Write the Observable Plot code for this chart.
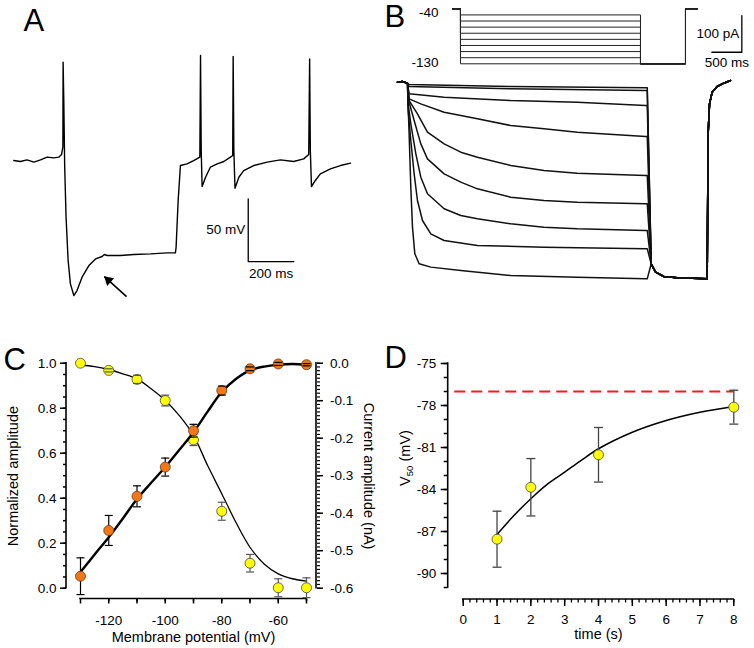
<!DOCTYPE html>
<html><head><meta charset="utf-8">
<script src="https://cdn.jsdelivr.net/npm/d3@7"></script>
<script src="https://cdn.jsdelivr.net/npm/@observablehq/plot@0.6"></script>
<style>
body{margin:0;background:#fff;}
#fig{position:relative;width:754px;height:648px;overflow:hidden;background:#fff;}
#fig svg{position:absolute;left:0;top:0;background:transparent;}
</style></head><body><div id="fig"></div>
<script>
// ---------- Panel A: current-clamp trace (time ms, voltage mV relative to rest) ----------
const traceA = [[0,0],[29,-0.8],[58,0.5],[88,-1.3],[117,0.5],[146,2.7],[175,2.1],[197,2.7],[209,4.8],[215,10.6],[216,78.4],[219,47.8],[223,-5.3],[229,-45.2],[238,-79.7],[248,-98.3],[263,-107.6],[277,-103.6],[299,-93],[329,-83.7],[358,-78.4],[387,-76.5],[397,-74.9],[409,-75.7],[467,-75.7],[526,-74.9],[599,-74.4],[672,-73.6],[708,-73.6],[711,-69.1],[720,-31.9],[730,-4.0],[759,-2.7],[788,0],[815,2.7],[818,83.7],[821,8.0],[825,-20.7],[840,-13.3],[861,-5.3],[891,-2.7],[920,-0.8],[949,2.7],[959,4.0],[961,82.9],[964,8.0],[969,-22.1],[986,-13.3],[1007,-8.0],[1051,-4.0],[1110,-1.3],[1168,0.5],[1226,-0.8],[1270,1.3],[1292,4.8],[1296,81.0],[1299,8.0],[1304,-20.7],[1321,-15.9],[1343,-10.6],[1387,-6.6],[1431,-4.0],[1475,-2.1]];
const scaleBarA = {t: 1027, v: -80.5, dt: 200, dv: 50, tLabel: "200 ms", vLabel: "50 mV"};
const arrowA = {t1: 494, v1: -108.4, t2: 397, v2: -92.5};

// ---------- Panel B: voltage protocol (mV) and currents (time ms, current pA) ----------
const holdingPotential = -40;
const testPotential = -130;
const protocolLevels = [-50, -60, -70, -80, -90, -100, -110, -120, -130];
const protocolEdges = [-133, 0, 3000, 3750, 3950];
const protocolLabels = ["-40", "-130"];
const preStep = [[0,1],[80,3],[167,-2]];
const tailCurrent = [[4233,-494.5],[4306,-517.3],[4444,-529.1],[4667,-532.7],[5167,-535.5],[5183,-140],[5206,-58.2],[5250,-26.4],[5333,-10.9],[5444,-1.8],[5556,5.5]];
const iStep50 = [[194,-5.5],[1889,-10.9],[4139,-14.5],[4167,-14.5]];
const iStep60 = [[194,-10.9],[1889,-17.3],[4139,-21.8],[4167,-21.8]];
const iStep70 = [[194,-30.9],[778,-40],[1889,-49.1],[3000,-53.6],[4139,-62.7],[4167,-62.7]];
const iStep80 = [[194,-44.5],[389,-58.2],[778,-80.9],[1333,-99.1],[1889,-117.3],[2444,-126.4],[3000,-135.4],[4139,-147.3],[4167,-147.3]];
const iStep90 = [[194,-49.1],[333,-85.4],[500,-135.4],[778,-167.3],[1056,-190],[1333,-203.6],[1889,-226.4],[2444,-240],[3000,-247.3],[4139,-253.6],[4167,-253.6]];
const iStep100 = [[194,-53.6],[278,-103.6],[389,-167.3],[500,-208.2],[778,-249.1],[1056,-271.8],[1333,-290],[1889,-312.7],[2444,-321.8],[3000,-326.4],[4139,-330.9],[4167,-330.9]];
const iStep110 = [[178,-58.2],[222,-112.7],[306,-194.5],[389,-258.2],[500,-303.6],[778,-344.5],[1056,-362.7],[1333,-371.8],[1889,-385.4],[2444,-394.5],[3000,-399.1],[4139,-403.6],[4167,-403.6]];
const iStep120 = [[178,-76.4],[222,-158.2],[278,-249.1],[333,-321.8],[417,-376.4],[556,-412.7],[778,-430.9],[1333,-444.5],[2444,-449.1],[4139,-453.6],[4167,-453.6]];
const iStep130 = [[167,-12.7],[194,-140],[222,-285.5],[250,-394.5],[289,-467.3],[361,-494.5],[556,-503.6],[1056,-512.7],[1889,-526.4],[3000,-530.9],[4139,-535.5],[4167,-535.5]];
const scaleBarB = {t: 5745, i: 82.6, dt: 500, di: 100, tLabel: "500 ms", iLabel: "100 pA"};

// ---------- Panel C: activation / amplitude vs membrane potential ----------
const potentialsC = [-130, -120, -110, -100, -90, -80, -70, -60, -50];
const normAmplitude = [1.00, 0.968, 0.928, 0.834, 0.659, 0.342, 0.111, 0.002, 0.002];
const normAmplitudeErr = [0, 0.007, 0.018, 0.024, 0.025, 0.04, 0.039, 0.04, 0.044];
const currentAmplitude = [-0.568, -0.446, -0.355, -0.277, -0.18, -0.073, -0.015, -0.002, -0.004];
const currentAmplitudeErr = [0.049, 0.04, 0.028, 0.024, 0.017, 0.012, 0.005, 0.004, 0.003];
const fitPotentialsC = [-130, -125, -120, -115, -110, -105, -100, -95, -90, -85, -80, -75, -70, -65, -60, -55, -50];
const normFit = [0.992, 0.985, 0.972, 0.953, 0.93, 0.886, 0.834, 0.767, 0.679, 0.545, 0.42, 0.293, 0.182, 0.108, 0.064, 0.042, 0.031];
const currentFit = [-0.557, -0.51, -0.464, -0.414, -0.362, -0.319, -0.277, -0.231, -0.184, -0.129, -0.077, -0.042, -0.019, -0.009, -0.004, -0.002, -0.004];
const cTicksLeft = [0, 0.2, 0.4, 0.6, 0.8, 1.0];
const cTicksRight = [0, -0.1, -0.2, -0.3, -0.4, -0.5, -0.6];
const cTicksX = [-130, -120, -110, -100, -90, -80, -70, -60, -50];
const cTickLabelsX = [-120, -100, -80, -60];

// ---------- Panel D: V50 vs step duration ----------
const stepTimes = [1, 2, 4, 8];
const v50 = [-87.55, -83.84, -81.52, -78.12];
const v50Err = [2.0, 2.05, 1.95, 1.21];
const fitTimesD = [1, 1.5, 2, 2.5, 3, 3.5, 4, 5, 6, 7, 8];
const fitV50 = [-87.21, -85.86, -84.66, -83.6, -82.76, -81.9, -81.09, -79.91, -79.07, -78.48, -78.07];
const referenceV50 = -77;
const dTicksY = [-75, -78, -81, -84, -87, -90];
const dTicksX = [0, 1, 2, 3, 4, 5, 6, 7, 8];

// ---------- helpers ----------
const FONT = '"Liberation Sans", Arial, Helvetica, sans-serif';
const W = 754, H = 648;
const base = {width: W, height: H, style: {background: "transparent", fontFamily: FONT, fontSize: "13.5px", overflow: "visible"}};
const svgNS = "http://www.w3.org/2000/svg";
function axisLine(side, a, b) {
  return (index, scales, values, dims) => {
    const l = document.createElementNS(svgNS, "line");
    let x1, x2, y1, y2;
    if (side === "bottom") { y1 = y2 = dims.height - dims.marginBottom; x1 = scales.x(a); x2 = scales.x(b); }
    else { x1 = x2 = side === "left" ? dims.marginLeft : dims.width - dims.marginRight; y1 = scales.y(a); y2 = scales.y(b); }
    l.setAttribute("x1", x1); l.setAttribute("x2", x2); l.setAttribute("y1", y1); l.setAttribute("y2", y2);
    l.setAttribute("stroke", "#000"); l.setAttribute("stroke-width", 1.6); l.setAttribute("stroke-linecap", "square");
    return l;
  };
}
const capSymbol = (w) => ({draw(ctx) { ctx.moveTo(-w, 0); ctx.lineTo(w, 0); }});
const range = (a, b, s) => d3.range(Math.round(a / s), Math.round(b / s) + 1).map(k => +(k * s).toFixed(6));
const fig = document.getElementById("fig");

// ---------- Panel A ----------
const sb = scaleBarA;
const plotA = Plot.plot({
  ...base, margin: 0,
  x: {domain: [0, 1475], range: [13.3, 350], axis: null},
  y: {domain: [-120, 90], range: [310.6, 47.1], axis: null},
  marks: [
    Plot.line(traceA, {x: d => d[0], y: d => d[1], stroke: "#000", strokeWidth: 1.4, strokeLinejoin: "round"}),
    Plot.line([[sb.t, sb.v + sb.dv], [sb.t, sb.v], [sb.t + sb.dt, sb.v]], {x: d => d[0], y: d => d[1], stroke: "#000", strokeWidth: 1.3}),
    Plot.text([sb.vLabel], {x: sb.t, y: sb.v + sb.dv / 2, textAnchor: "end", dx: -3, fontSize: 13.5}),
    Plot.text([sb.tLabel], {x: sb.t + sb.dt / 2, y: sb.v, dy: 12, fontSize: 13.5}),
    Plot.link([arrowA], {x1: "t1", y1: "v1", x2: "t2", y2: "v2", stroke: "#000", strokeWidth: 1.6}),
    Plot.dot([arrowA], {x: "t2", y: "v2", dx: 4, dy: 3.6, symbol: "triangle", r: 3.8, fill: "#000", rotate: -48}),
    Plot.text(["A"], {frameAnchor: "top-left", dx: 23, dy: 8, lineAnchor: "top", textAnchor: "start", fontSize: 31}),
    Plot.text(["B"], {frameAnchor: "top-left", dx: 384, dy: 4, lineAnchor: "top", textAnchor: "start", fontSize: 31}),
    Plot.text(["C"], {frameAnchor: "top-left", dx: 3, dy: 347, lineAnchor: "top", textAnchor: "start", fontSize: 31}),
    Plot.text(["D"], {frameAnchor: "top-left", dx: 384, dy: 345, lineAnchor: "top", textAnchor: "start", fontSize: 31})
  ]
});
fig.appendChild(plotA);

// ---------- Panel B: protocol ----------
const [tPre, tOn, tOff, tTestEnd, tEnd] = protocolEdges;
const protocolData = protocolLevels.flatMap(lv => [
  [tPre, holdingPotential], [tOn, holdingPotential], [tOn, lv], [tOff, lv], [tOff, testPotential],
  [tTestEnd, testPotential], [tTestEnd, holdingPotential], [tEnd, holdingPotential]
].map(([t, v]) => ({t, v, lv})));
const plotBp = Plot.plot({
  ...base, margin: 0,
  x: {domain: [tPre, tEnd], range: [452, 697], axis: null},
  y: {domain: [testPotential, holdingPotential], range: [63.3, 8.3], axis: null},
  marks: [
    Plot.line(protocolData, {x: "t", y: "v", z: "lv", stroke: "#222", strokeWidth: 1}),
    Plot.text([protocolLabels[0]], {x: tPre, y: holdingPotential, textAnchor: "end", dx: -14, dy: 3.5, fontSize: 13.5}),
    Plot.text([protocolLabels[1]], {x: tPre, y: testPotential, textAnchor: "end", dx: -14, dy: -1.5, fontSize: 13.5})
  ]
});
fig.appendChild(plotBp);

// ---------- Panel B: currents ----------
const stepsB = [[-50, iStep50], [-60, iStep60], [-70, iStep70], [-80, iStep80], [-90, iStep90], [-100, iStep100], [-110, iStep110], [-120, iStep120], [-130, iStep130]];
const currentData = stepsB.flatMap(([lv, pts]) => [...preStep, ...pts, ...tailCurrent].map(([t, i]) => ({t, i, lv})));
const sbB = scaleBarB;
const plotBc = Plot.plot({
  ...base, margin: 0,
  x: {domain: [0, 5556], range: [397, 730], axis: null},
  y: {domain: [-560, 20], range: [287.3, 74.7], axis: null},
  marks: [
    Plot.line(currentData, {x: "t", y: "i", z: "lv", stroke: "#111", strokeWidth: 1.5, strokeLinejoin: "round"}),
    Plot.line([[sbB.t - sbB.dt, sbB.i], [sbB.t, sbB.i], [sbB.t, sbB.i + sbB.di]], {x: d => d[0], y: d => d[1], stroke: "#000", strokeWidth: 1.3}),
    Plot.text([sbB.iLabel], {x: sbB.t, y: sbB.i + sbB.di / 2, textAnchor: "end", dx: -2.5, fontSize: 13.5}),
    Plot.text([sbB.tLabel], {x: sbB.t - sbB.dt / 2, y: sbB.i, dy: 10.5, fontSize: 13.5})
  ]
});
fig.appendChild(plotBc);

// ---------- Panel C ----------
const frameC = {marginLeft: 66, marginRight: 438, marginTop: 362.7, marginBottom: 49.5};
const cData = potentialsC.map((v, k) => ({v, n: normAmplitude[k], ne: normAmplitudeErr[k], c: currentAmplitude[k], ce: currentAmplitudeErr[k]}));
const cFit = fitPotentialsC.map((v, k) => ({v, n: normFit[k], c: currentFit[k]}));
const plotC1 = Plot.plot({
  ...base, ...frameC,
  x: {domain: [-130, -50], range: [80, 306], axis: null},
  y: {domain: [0, 1], range: [587.7, 362.7], axis: null},
  marks: [
    axisLine("left", 0, 1),
    axisLine("bottom", -130, -50),
    Plot.axisY({anchor: "left", ticks: cTicksLeft, tickSize: 6, tickPadding: 4, tickFormat: d => d.toFixed(1), strokeWidth: 1.5, fontSize: 13.5, label: null}),
    Plot.axisY({anchor: "left", ticks: range(0, 1, 0.05), tickSize: 3, tickFormat: () => "", strokeWidth: 1.5, label: null}),
    Plot.axisX({anchor: "bottom", ticks: cTicksX, tickSize: 5, tickPadding: 11, tickFormat: d => cTickLabelsX.includes(d) ? String(d) : "", strokeWidth: 1.5, fontSize: 13.5, label: null}),
    Plot.axisX({anchor: "bottom", ticks: range(-125, -55, 10), tickSize: 3, tickFormat: () => "", strokeWidth: 1.5, label: null}),
    Plot.line(cFit, {x: "v", y: "n", stroke: "#000", strokeWidth: 1.3, curve: "catmull-rom"}),
    Plot.ruleX(cData.filter(d => d.ne > 0), {x: "v", y1: d => d.n - d.ne, y2: d => d.n + d.ne, stroke: "#555", strokeWidth: 1.2}),
    Plot.dot(cData, {x: "v", y: "n", r: 5, fill: "#ffff00", stroke: "#444", strokeWidth: 0.8}),
    Plot.dot(cData.filter(d => d.ne > 0), {x: "v", y: d => d.n - d.ne, symbol: capSymbol(4), stroke: "#555", strokeWidth: 1.2}),
    Plot.dot(cData.filter(d => d.ne > 0), {x: "v", y: d => d.n + d.ne, symbol: capSymbol(4), stroke: "#555", strokeWidth: 1.2}),
    Plot.text(["Normalized amplitude"], {frameAnchor: "left", textAnchor: "middle", lineAnchor: "middle", dx: -53, dy: -5, rotate: -90, fontSize: 14.5}),
    Plot.text(["Membrane potential (mV)"], {x: -90, frameAnchor: "bottom", textAnchor: "middle", lineAnchor: "middle", dy: 38.5, fontSize: 14.5})
  ]
});
fig.appendChild(plotC1);

const plotC2 = Plot.plot({
  ...base, ...frameC,
  x: {domain: [-130, -50], range: [80, 306], axis: null},
  y: {domain: [-0.6, 0], range: [587.7, 362.7], axis: null},
  marks: [
    axisLine("right", -0.6, 0),
    Plot.axisY({anchor: "right", ticks: cTicksRight, tickSize: 6, tickPadding: 7.5, tickFormat: d => d.toFixed(1), strokeWidth: 1.5, fontSize: 13.5, label: null}),
    Plot.axisY({anchor: "right", ticks: range(-0.6, 0, 0.01), tickSize: 3, tickFormat: () => "", strokeWidth: 1.2, label: null}),
    Plot.line(cFit, {x: "v", y: "c", stroke: "#000", strokeWidth: 2.4, curve: "catmull-rom"}),
    Plot.ruleX(cData, {x: "v", y1: d => d.c - d.ce, y2: d => d.c + d.ce, stroke: "#000", strokeWidth: 1.2}),
    Plot.dot(cData, {x: "v", y: "c", r: 5, fill: "#f07818", stroke: "#6a3a10", strokeWidth: 0.8}),
    Plot.dot(cData, {x: "v", y: d => d.c - d.ce, symbol: capSymbol(4), stroke: "#000", strokeWidth: 1.2}),
    Plot.dot(cData, {x: "v", y: d => d.c + d.ce, symbol: capSymbol(4), stroke: "#000", strokeWidth: 1.2}),
    Plot.text(["Current amplitude (nA)"], {frameAnchor: "right", textAnchor: "middle", lineAnchor: "middle", dx: 52, dy: -5, rotate: 90, fontSize: 14.5})
  ]
});
fig.appendChild(plotC2);

// ---------- Panel D ----------
const dData = stepTimes.map((t, k) => ({t, v: v50[k], e: v50Err[k]}));
const dFit = fitTimesD.map((t, k) => ({t, v: fitV50[k]}));
// y-axis title pieces placed in the panel's own units (left of the axis)
const yTitleD = [{text: "V", x: -1.70, y: -83.75, size: 14.5}, {text: "50", x: -1.58, y: -83.05, size: 9.5}, {text: "(mV)", x: -1.70, y: -82.0, size: 14.5}];
const plotD = Plot.plot({
  ...base,
  marginLeft: 447.7, marginRight: 14, marginTop: 363, marginBottom: 49,
  x: {domain: [0, 8], range: [462.7, 733.3], axis: null},
  y: {domain: [-91, -75], range: [587, 363], axis: null},
  marks: [
    axisLine("left", -91, -75),
    axisLine("bottom", 0, 8),
    Plot.axisY({anchor: "left", ticks: dTicksY, tickSize: 7, tickPadding: 5, tickFormat: d => String(d), strokeWidth: 1.5, fontSize: 13.5, label: null}),
    Plot.axisY({anchor: "left", ticks: range(-91, -75, 1), tickSize: 4, tickFormat: () => "", strokeWidth: 1.5, label: null}),
    Plot.axisX({anchor: "bottom", ticks: dTicksX, tickSize: 7, tickPadding: 8, tickFormat: d => String(d), strokeWidth: 1.5, fontSize: 13.5, label: null}),
    Plot.axisX({anchor: "bottom", ticks: range(0, 8, 0.2), tickSize: 3.5, tickFormat: () => "", strokeWidth: 1.3, label: null}),
    Plot.ruleY([referenceV50], {x1: -0.25, x2: 8, stroke: "#e8221e", strokeWidth: 1.8, strokeDasharray: "11,6"}),
    Plot.line(dFit, {x: "t", y: "v", stroke: "#000", strokeWidth: 1.5, curve: "catmull-rom"}),
    Plot.ruleX(dData, {x: "t", y1: d => d.v - d.e, y2: d => d.v + d.e, stroke: "#444", strokeWidth: 1.3}),
    Plot.dot(dData, {x: "t", y: d => d.v - d.e, symbol: capSymbol(4.5), stroke: "#444", strokeWidth: 1.3}),
    Plot.dot(dData, {x: "t", y: d => d.v + d.e, symbol: capSymbol(4.5), stroke: "#444", strokeWidth: 1.3}),
    Plot.dot(dData, {x: "t", y: "v", r: 5, fill: "#ffff00", stroke: "#444", strokeWidth: 0.8}),
    Plot.text(yTitleD, {x: "x", y: "y", text: "text", fontSize: "size", textAnchor: "start", lineAnchor: "middle", rotate: -90}),
    Plot.text(["time (s)"], {x: 4, frameAnchor: "bottom", textAnchor: "middle", lineAnchor: "middle", dy: 34.5, fontSize: 14.5})
  ]
});
fig.appendChild(plotD);
</script></body></html>
